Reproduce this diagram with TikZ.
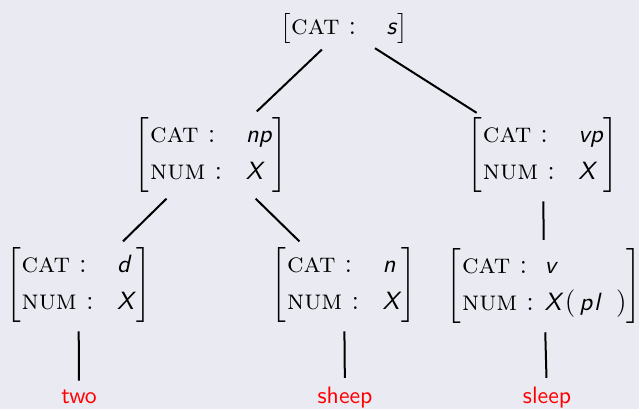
\documentclass[tikz,border=0pt]{standalone}
\usepackage{array}
\definecolor{bg}{RGB}{234,234,242}
\newcommand{\fsval}[1]{\textsf{\itshape #1}}
\newcommand{\capfont}{\fontsize{11.2}{14}\selectfont}
\newcommand{\parfont}{\fontsize{11}{13}\selectfont}
\newcommand{\xpl}{\fsval{X}\kern1.4pt{\parfont\textnormal{(}}\kern1.6pt\fsval{p\kern0.8pt l}\kern6.4pt{\parfont\textnormal{)}}}
\newcommand{\fstwo}[3][38.2pt]{$\left[\begin{tabular}{@{\hspace{0.3pt}}l@{}l@{\hspace{0pt}}}\makebox[#1][l]{\capfont\textsc{cat} :} & \fsval{#2}\\[3pt] \makebox[#1][l]{\capfont\textsc{num} :} & \fsval{#3}\end{tabular}\right]$}
\newcommand{\fsone}[2][38.2pt]{$\left[\begin{tabular}{@{\hspace{0.3pt}}l@{}l@{\hspace{0pt}}}\makebox[#1][l]{\capfont\textsc{cat} :} & \fsval{#2}\end{tabular}\right]$}
\tikzset{
  fs/.style={inner sep=0pt, outer sep=0pt},
  leaf/.style={text=red, font=\sffamily\fontsize{9.5}{11}\selectfont, inner sep=0pt, outer sep=0pt},
  edge/.style={draw=black, line width=0.8pt, shorten <=3.5pt, shorten >=3.5pt}
}
\begin{document}
\begin{tikzpicture}[x=0.4pt, y=-0.4pt]
\fill[bg] (0,0) rectangle (639,409);
\useasboundingbox (0,0) rectangle (639,409);
\node[fs] (top) at (344,28.5) {\fsone{s}};
\node[fs] (np) at (211,155) {\fstwo{np}{X}};
\node[fs] (vp) at (543,155) {\fstwo{vp}{X}};
\node[fs] (d) at (78.5,285) {\fstwo{d}{X}};
\node[fs] (n) at (344,285) {\fstwo{n}{X}};
\node[fs] (v) at (544,286) {\fstwo[33pt]{v}{\xpl}};
\node[leaf, anchor=base] (two) at (79,403) {two};
\node[leaf, anchor=base] (sheep) at (345,403) {sheep};
\node[leaf, anchor=base] (sleep) at (547,403) {sleep};
\draw[edge] (top) -- (np);
\draw[edge] (top) -- (vp);
\draw[edge] (np) -- (d);
\draw[edge] (np) -- (n);
\draw[edge] (vp) -- (v);
\draw[edge] (d) -- (two);
\draw[edge] (n) -- (sheep);
\draw[edge] (v) -- (sleep);
\end{tikzpicture}
\end{document}
